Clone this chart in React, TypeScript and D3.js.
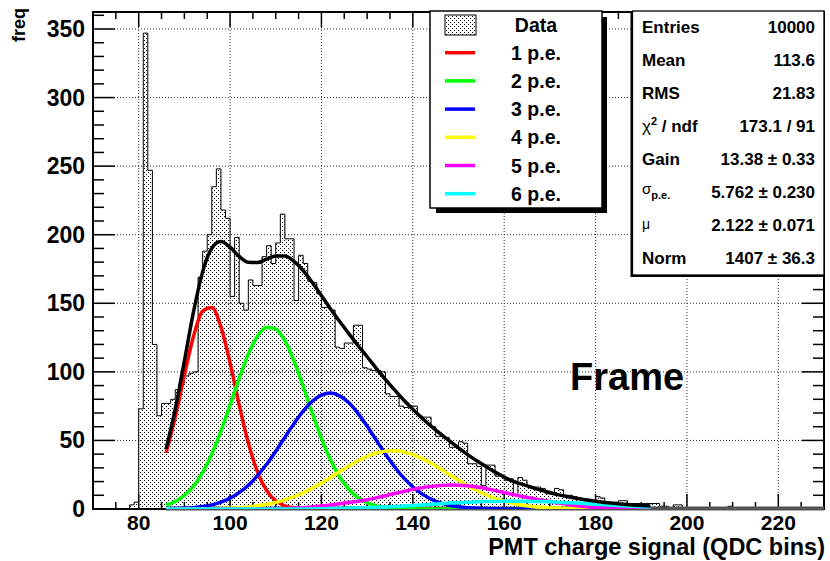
import React from 'react';
import * as d3 from 'd3';

// ---------- data ----------
const firstBin = 77; // left edge of first bin, bins are 1 unit wide
const binCounts = [
  0, 3, 5, 73, 347, 247, 120,
  68, 77, 77, 80, 87, 92, 97, 99, 100, 169,
  188, 200, 235, 248, 218, 212, 155, 198, 150, 145,
  167, 163, 163, 184, 192, 179, 194, 215, 197, 197,
  152, 185, 179, 166, 165, 157, 147, 147, 145, 118,
  117, 121, 121, 134, 134, 103, 102, 101, 101, 100,
  84, 82, 82, 75, 74, 75, 75, 68, 67, 67,
  60, 53, 53, 52, 45, 45, 49, 48, 33, 33,
  31, 17, 32, 32, 24, 24, 21, 22, 10, 23,
  21, 17, 16, 16, 15, 11, 11, 15, 14, 10,
  10, 9, 8, 7, 7, 6, 9, 8, 5, 5,
  5, 6, 6, 4, 4, 4, 4, 4, 4, 4,
  2, 2, 1, 3, 3, 1, 0, 1, 0, 0,
  1, 0, 0, 0, 1, 2, 0, 0, 0, 0,
  0, 0, 0, 0, 0, 0, 0, 0, 0, 0,
  0, 0, 1, 1, 1, 1,
];

const fitX = [
  86, 88, 90, 92, 94, 96, 98, 100, 102, 104, 106, 108, 110, 112, 114, 116, 118, 120,
  122, 124, 126, 128, 130, 132, 134, 136, 138, 140, 142, 144, 146, 148, 150, 152, 154,
  156, 158, 160, 162, 164, 166, 168, 170, 172, 174, 176, 178, 180, 182, 184, 186, 188,
  190, 192,
];

const pe1 = [
  40.9, 67.0, 97.5, 125.9, 144.3, 146.9, 132.8, 106.6, 75.9, 48.1, 27.0, 13.5, 6.0, 2.3,
  0.8, 0.3, 0.1, 0, 0, 0, 0, 0, 0, 0, 0, 0, 0, 0, 0, 0, 0, 0, 0, 0, 0, 0, 0, 0, 0, 0, 0,
  0, 0, 0, 0, 0, 0, 0, 0, 0, 0, 0, 0, 0,
];
const pe2 = [
  2.9, 5.5, 9.9, 16.7, 26.7, 40.1, 56.8, 75.8, 95.3, 112.9, 126.0, 132.5, 131.3, 122.7,
  107.9, 89.5, 69.9, 51.5, 35.7, 23.3, 14.4, 8.3, 4.6, 2.3, 1.1, 0.5, 0.2, 0.1, 0, 0, 0,
  0, 0, 0, 0, 0, 0, 0, 0, 0, 0, 0, 0, 0, 0, 0, 0, 0, 0, 0, 0, 0, 0, 0,
];
const pe3 = [
  0.1, 0.3, 0.5, 1.0, 1.8, 3.0, 5.0, 7.9, 11.9, 17.3, 24.3, 32.6, 42.1, 52.3, 62.3, 71.4,
  78.6, 83.1, 84.5, 82.5, 77.4, 69.7, 60.4, 50.2, 40.1, 30.8, 22.7, 16.1, 11.0, 7.2, 4.5,
  2.7, 1.6, 0.9, 0.5, 0.3, 0.1, 0, 0, 0, 0, 0, 0, 0, 0, 0, 0, 0, 0, 0, 0, 0, 0, 0,
];
const pe4 = [
  0, 0, 0, 0.1, 0.1, 0.2, 0.4, 0.6, 1.0, 1.5, 2.3, 3.4, 4.8, 6.7, 9.0, 11.8, 15.2, 19.0,
  23.0, 27.3, 31.4, 35.2, 38.4, 40.8, 42.2, 42.5, 41.6, 39.7, 36.9, 33.3, 29.3, 25.1, 21.0,
  17.0, 13.5, 10.4, 7.8, 5.7, 4.0, 2.8, 1.9, 1.2, 0.8, 0.5, 0.3, 0.2, 0.1, 0.1, 0, 0, 0,
  0, 0, 0,
];
const pe5 = [
  0, 0, 0, 0, 0, 0, 0, 0, 0.05, 0.06, 0.1, 0.17, 0.27, 0.41, 0.6, 0.88, 1.6, 2.3, 3.0,
  3.8, 4.8, 5.6, 6.8, 8.1, 9.7, 11.3, 12.8, 14.3, 15.5, 16.5, 17.2, 17.5, 17.4, 16.9, 16.0,
  14.9, 13.5, 12.0, 10.5, 9.1, 7.8, 6.6, 5.4, 4.3, 3.2, 2.3, 1.6, 1.1, 0.8, 0.5, 0.3, 0.2,
  0.1, 0.1,
];
const pe6 = [
  0, 0, 0, 0, 0, 0, 0, 0, 0, 0, 0, 0, 0, 0, 0, 0, 0, 0.2, 0.3, 0.4, 0.5, 0.7, 0.9, 1.2,
  1.5, 1.8, 2.2, 2.6, 3.0, 3.4, 3.9, 4.3, 4.6, 4.9, 5.2, 5.4, 5.5, 5.6, 5.6, 5.6, 5.5, 5.4,
  5.2, 4.9, 4.6, 4.3, 3.9, 3.5, 3.1, 2.7, 2.3, 2.0, 1.7, 1.4,
];
const fitTotal = [
  43.9, 72.8, 107.9, 143.7, 172.9, 190.2, 195.0, 190.9, 184.2, 179.9, 179.7, 182.2, 184.5,
  184.4, 180.6, 173.9, 165.1, 155.6, 145.9, 136.7, 127.9, 119.2, 111.0, 102.6, 94.6, 86.9,
  79.5, 72.8, 66.4, 60.4, 54.9, 49.6, 44.6, 39.7, 35.2, 31.0, 26.9, 23.3, 20.1, 18.0, 15.8,
  13.8, 12.0, 10.3, 8.9, 7.6, 6.5, 5.6, 4.8, 4.1, 3.5, 3.0, 2.6, 2.2,
];

const peSeries = [pe1, pe2, pe3, pe4, pe5, pe6];
const peColors = ['#ff0000', '#00ff00', '#0000ff', '#ffff00', '#ff00ff', '#00ffff'];
const legendLabels = ['Data', '1 p.e.', '2 p.e.', '3 p.e.', '4 p.e.', '5 p.e.', '6 p.e.'];

const xMajorTicks = [80, 100, 120, 140, 160, 180, 200, 220];
const xMinorTicks = [75, 85, 90, 95, 105, 110, 115, 125, 130, 135, 145, 150, 155, 165, 170, 175, 185, 190, 195, 205, 210, 215, 225];
const yMajorTicks = [0, 50, 100, 150, 200, 250, 300, 350];
const yMinorTicks = [10, 20, 30, 40, 60, 70, 80, 90, 110, 120, 130, 140, 160, 170, 180, 190, 210, 220, 230, 240, 260, 270, 280, 290, 310, 320, 330, 340, 360];

const statsValues = ['10000', '113.6', '21.83', '173.1 / 91', '13.38 ± 0.33', '5.762 ± 0.230', '2.122 ± 0.071', '1407 ± 36.3'];

const FONT = "'Liberation Sans', Arial, Helvetica, sans-serif";

export default function App() {
  const W = 830, H = 561;
  const L = 93, R = 824, T = 12, B = 509;
  const x = d3.scaleLinear().domain([70, 230]).range([L, R]);
  const y = d3.scaleLinear().domain([0, 362.4]).range([B, T]);

  let hist = `M${x(firstBin)},${y(0)}`;
  binCounts.forEach((c, i) => {
    hist += `L${x(firstBin + i)},${y(c)}L${x(firstBin + i + 1)},${y(c)}`;
  });
  hist += `L${x(firstBin + binCounts.length)},${y(0)}`;

  const line = d3
    .line<number>()
    .x((_, i) => x(fitX[i]))
    .y((v) => y(v))
    .curve(d3.curveMonotoneX);

  const statsLabelX = 642;
  const statsValueX = 815;
  const statsRowY = (i: number) => 26.5 + i * 33.1;
  const legRowY = (i: number) => 24.5 + i * 28.2;

  return (
    <div style={{ position: 'absolute', left: 0, top: 0 }}>
      <svg width={W} height={H} style={{ display: 'block', background: '#fff' }} fontFamily={FONT}>
        <defs>
          <pattern id="dots" width="4" height="4" patternUnits="userSpaceOnUse">
            <rect x="0" y="0" width="1" height="1" fill="#000" />
            <rect x="2" y="2" width="1" height="1" fill="#000" />
          </pattern>
          <clipPath id="plot">
            <rect x={L} y={T} width={R - L} height={B - T} />
          </clipPath>
        </defs>

        {/* grid */}
        <g stroke="#333" strokeWidth={1} strokeDasharray="1 2">
          {xMajorTicks.map((t) => (
            <line key={'gx' + t} x1={x(t)} x2={x(t)} y1={T} y2={B} />
          ))}
          {yMajorTicks.filter((t) => t > 0).map((t) => (
            <line key={'gy' + t} x1={L} x2={R} y1={y(t)} y2={y(t)} />
          ))}
        </g>

        {/* histogram */}
        <g clipPath="url(#plot)">
          <path d={hist + 'Z'} fill="url(#dots)" stroke="none" />
          <path d={hist} fill="none" stroke="#000" strokeWidth={1} />
        </g>

        {/* frame */}
        <rect x={L} y={T} width={R - L} height={B - T} fill="none" stroke="#000" strokeWidth={2} />

        {/* ticks */}
        <g stroke="#000" strokeWidth={1.5}>
          {xMajorTicks.map((t) => (
            <g key={'tx' + t}>
              <line x1={x(t)} x2={x(t)} y1={B} y2={B - 15} />
              <line x1={x(t)} x2={x(t)} y1={T} y2={T + 15} />
            </g>
          ))}
          {xMinorTicks.map((t) => (
            <g key={'mx' + t}>
              <line x1={x(t)} x2={x(t)} y1={B} y2={B - 7} />
              <line x1={x(t)} x2={x(t)} y1={T} y2={T + 7} />
            </g>
          ))}
          {yMajorTicks.map((t) => (
            <g key={'ty' + t}>
              <line x1={L} x2={L + 22} y1={y(t)} y2={y(t)} />
              <line x1={R} x2={R - 22} y1={y(t)} y2={y(t)} />
            </g>
          ))}
          {yMinorTicks.map((t) => (
            <g key={'my' + t}>
              <line x1={L} x2={L + 11} y1={y(t)} y2={y(t)} />
              <line x1={R} x2={R - 11} y1={y(t)} y2={y(t)} />
            </g>
          ))}
        </g>

        {/* gray baseline band under the fit range */}
        <line x1={x(86)} x2={R} y1={B - 0.5} y2={B - 0.5} stroke="#555" strokeWidth={4} />

        {/* component curves and total fit */}
        <g clipPath="url(#plot)" fill="none" strokeLinejoin="round" strokeLinecap="butt">
          {peSeries.map((s, k) => (
            <path key={'pe' + k} d={line(s) || ''} stroke={peColors[k]} strokeWidth={3.5} />
          ))}
          <path d={line(fitTotal) || ''} stroke="#000" strokeWidth={3.5} />
        </g>

        {/* tick labels */}
        <g fontWeight="bold" fill="#000">
          {xMajorTicks.map((t) => (
            <text key={'lx' + t} x={x(t)} y={529.5} textAnchor="middle" fontSize={21}>
              {t}
            </text>
          ))}
          {yMajorTicks.map((t) => (
            <text key={'ly' + t} x={85} y={y(t) + 8} textAnchor="end" fontSize={23}>
              {t}
            </text>
          ))}
        </g>

        {/* axis titles */}
        <text x={825} y={555} textAnchor="end" fontSize={23.5} fontWeight="bold">
          PMT charge signal (QDC bins)
        </text>
        <text transform="translate(25,8) rotate(-90)" textAnchor="end" fontSize={18} fontWeight="bold">
          freq
        </text>

        {/* frame title */}
        <text x={570} y={390} fontSize={38} fontWeight="bold">
          Frame
        </text>

        {/* legend */}
        <g>
          <rect x={436} y={17} width={171} height={196} fill="#000" />
          <rect x={430} y={11} width={172} height={197} fill="#fff" stroke="#000" strokeWidth={1.5} />
          <rect x={445} y={15} width={31} height={20} fill="url(#dots)" stroke="#000" strokeWidth={1} />
          {peColors.map((c, k) => (
            <line key={'lg' + k} x1={445} x2={475} y1={legRowY(k + 1)} y2={legRowY(k + 1)} stroke={c} strokeWidth={3.5} />
          ))}
          {legendLabels.map((lab, k) => (
            <text key={'lt' + k} x={536} y={legRowY(k) + 7} textAnchor="middle" fontSize={19.5} fontWeight="bold">
              {lab}
            </text>
          ))}
        </g>

        {/* stats box */}
        <g>
          <rect x={630.5} y={13} width={192} height={264} fill="#000" />
          <rect x={632.5} y={11} width={191.5} height={264} fill="#fff" stroke="#000" strokeWidth={1.3} />
          <g fontSize={17} fontWeight="bold">
            <text x={statsLabelX} y={statsRowY(0) + 6}>Entries</text>
            <text x={statsLabelX} y={statsRowY(1) + 6}>Mean</text>
            <text x={statsLabelX} y={statsRowY(2) + 6}>RMS</text>
            <text x={statsLabelX} y={statsRowY(3) + 6}>
              <tspan fontWeight="normal">χ</tspan>
              <tspan dy={-7} fontSize={11}>2</tspan>
              <tspan dy={7}> / ndf</tspan>
            </text>
            <text x={statsLabelX} y={statsRowY(4) + 6}>Gain</text>
            <text x={statsLabelX} y={statsRowY(5) + 2}>
              <tspan fontWeight="normal" fontSize={15}>σ</tspan>
              <tspan dy={5} fontSize={11}>p.e.</tspan>
            </text>
            <text x={statsLabelX} y={statsRowY(6) + 4} fontWeight="normal" fontSize={14}>μ</text>
            <text x={statsLabelX} y={statsRowY(7) + 6}>Norm</text>
            {statsValues.map((v, i) => (
              <text key={'sv' + i} x={statsValueX} y={statsRowY(i) + 6} textAnchor="end">
                {v}
              </text>
            ))}
          </g>
        </g>
      </svg>
    </div>
  );
}
